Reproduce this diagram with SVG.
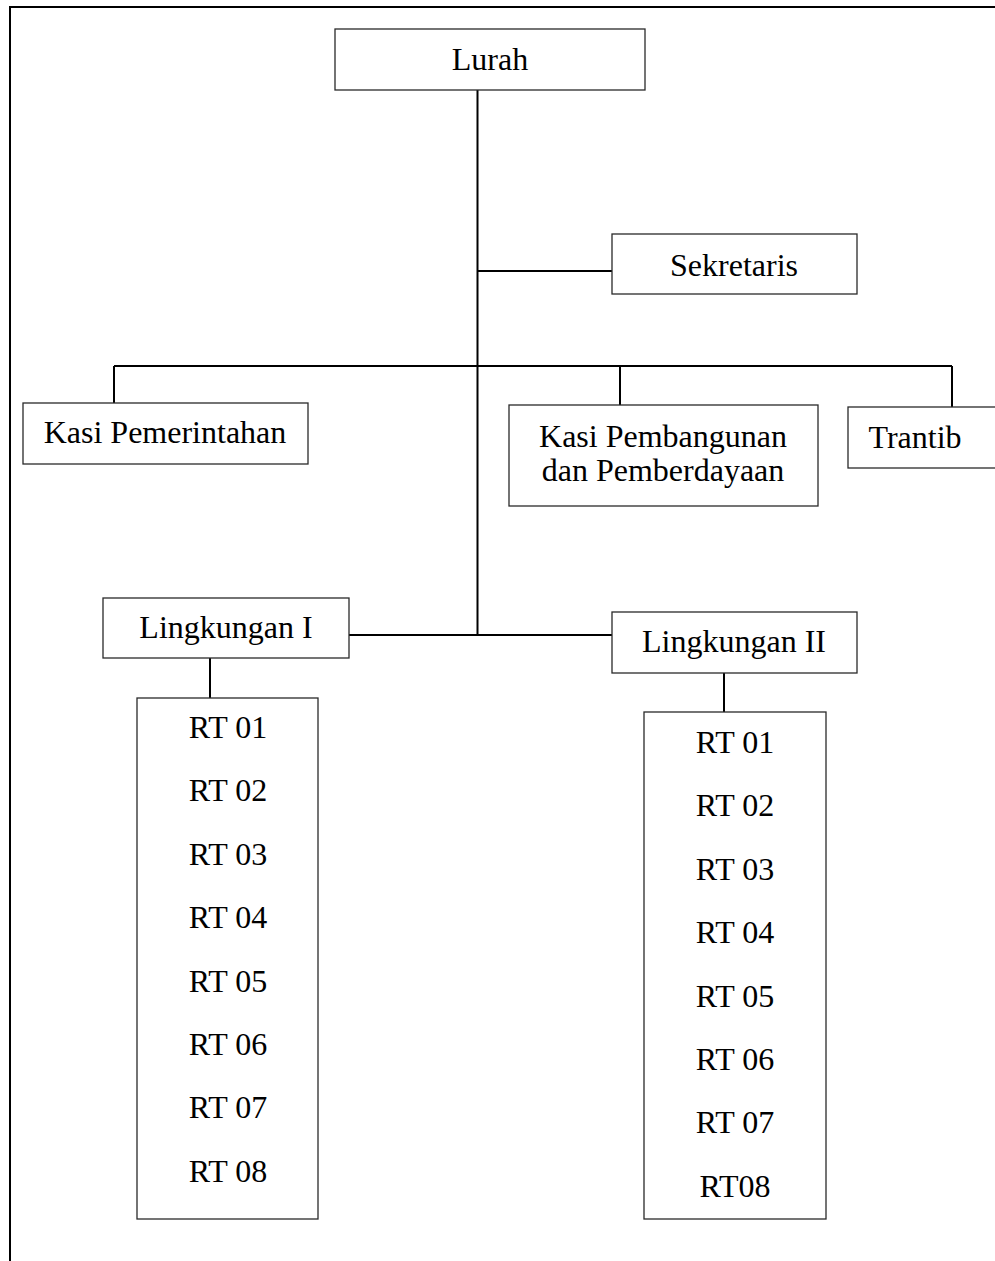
<svg xmlns="http://www.w3.org/2000/svg" width="995" height="1261" viewBox="0 0 995 1261">
<style>
.box{fill:#fff;stroke:#2a2a2a;stroke-width:1.3}
.ln{fill:none;stroke:#000;stroke-width:2}
text{font-family:"Liberation Serif","Times New Roman",serif;font-size:32px;fill:#000;text-anchor:middle}
</style>
<rect width="995" height="1261" fill="#fff"/>
<path class="ln" d="M10,1261 V7 H995"/>
<g id="connectors">
<path class="ln" d="M477.5,90 V636"/>
<path class="ln" d="M477.5,271 H612"/>
<path class="ln" d="M114,366 H952"/>
<path class="ln" d="M114,366 V403"/>
<path class="ln" d="M620,366 V405"/>
<path class="ln" d="M952,366 V407"/>
<path class="ln" d="M349,635 H612"/>
<path class="ln" d="M210,658 V698"/>
<path class="ln" d="M724,673 V712"/>
</g>
<g id="lurah"><rect class="box" x="335" y="29" width="310" height="61"/><text x="490" y="70">Lurah</text></g>
<g id="sekretaris"><rect class="box" x="612" y="234" width="245" height="60"/><text x="734" y="276">Sekretaris</text></g>
<g id="kasi-pemerintahan"><rect class="box" x="23" y="403" width="285" height="61"/><text x="165" y="443">Kasi Pemerintahan</text></g>
<g id="kasi-pembangunan"><rect class="box" x="509" y="405" width="309" height="101"/><text x="663" y="447">Kasi Pembangunan</text><text x="663" y="481">dan Pemberdayaan</text></g>
<g id="trantib"><rect class="box" x="848" y="407" width="150" height="61"/><text x="915" y="448">Trantib</text></g>
<g id="lingkungan-1"><rect class="box" x="103" y="598" width="246" height="60"/><text x="226" y="638">Lingkungan I</text></g>
<g id="lingkungan-2"><rect class="box" x="612" y="612" width="245" height="61"/><text x="734" y="652">Lingkungan II</text></g>
<g id="rt-list-1"><rect class="box" x="137" y="698" width="181" height="521"/>
<text x="228" y="738">RT 01</text><text x="228" y="801">RT 02</text><text x="228" y="865">RT 03</text><text x="228" y="928">RT 04</text><text x="228" y="992">RT 05</text><text x="228" y="1055">RT 06</text><text x="228" y="1118">RT 07</text><text x="228" y="1182">RT 08</text></g>
<g id="rt-list-2"><rect class="box" x="644" y="712" width="182" height="507"/>
<text x="735" y="753">RT 01</text><text x="735" y="816">RT 02</text><text x="735" y="880">RT 03</text><text x="735" y="943">RT 04</text><text x="735" y="1007">RT 05</text><text x="735" y="1070">RT 06</text><text x="735" y="1133">RT 07</text><text x="735" y="1197">RT08</text></g>
</svg>
